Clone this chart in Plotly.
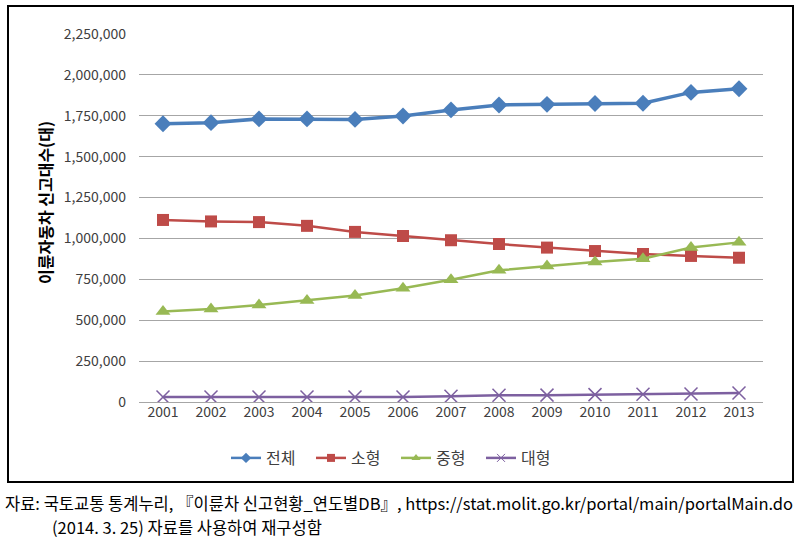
import plotly.graph_objects as go

years = [2001, 2002, 2003, 2004, 2005, 2006, 2007, 2008, 2009, 2010, 2011, 2012, 2013]
total = [1701000, 1708000, 1731000, 1731000, 1728000, 1749000, 1786000, 1816000, 1820000, 1825000, 1827000, 1893000, 1915000]
small = [1113000, 1104000, 1100000, 1077000, 1040000, 1015000, 989000, 966000, 944000, 923000, 905000, 893000, 882000]
medium = [553000, 568000, 593000, 620000, 651000, 696000, 748000, 805000, 832000, 856000, 876000, 944000, 976000]
large = [30000, 30000, 30000, 30000, 30000, 30000, 35000, 41000, 42000, 45000, 47000, 49000, 55000]

series_names = ["전체", "소형", "중형", "대형"]
y_ticks = [0, 250000, 500000, 750000, 1000000, 1250000, 1500000, 1750000, 2000000, 2250000]
y_title = "이륜자동차 신고대수(대)"
source1 = "자료: 국토교통 통계누리, 『이륜차 신고현황_연도별DB』, https://stat.molit.go.kr/portal/main/portalMain.do"
source2 = "(2014. 3. 25) 자료를 사용하여 재구성함"

FONT = "Noto Sans CJK KR"
W, H = 802, 549
L, R, T, B = 139, 39, 34, 147
pw, ph = W - L - R, H - T - B


def px(x):
    return (x - L) / pw


def py(y):
    return (H - B - y) / ph


fig = go.Figure()
styles = [
    (total, "#4A7EBB", "diamond", 13, 3.5),
    (small, "#BE4B48", "square", 12, 2.5),
    (medium, "#98B954", "triangle-up", 13, 2.5),
    (large, "#7D60A0", "x-thin-open", 13, 2.5),
]
for name, (vals, color, sym, size, lw) in zip(series_names, styles):
    mk = dict(symbol=sym, size=size, color=color)
    if sym == "x-thin-open":
        mk["line"] = dict(color=color, width=1.5)
    fig.add_trace(go.Scatter(
        x=years, y=vals, name=name, mode="lines+markers", showlegend=False,
        line=dict(color=color, width=lw), marker=mk,
    ))
# legend entries with small symbols, as in the reference legend
for name, (vals, color, sym, size, lw) in zip(series_names, styles):
    mk = dict(symbol=sym, size=8, color=color)
    if sym == "x-thin-open":
        mk["line"] = dict(color=color, width=1)
    fig.add_trace(go.Scatter(
        x=[None], y=[None], name=name, mode="lines+markers",
        line=dict(color=color, width=2.5), marker=mk,
    ))

fig.update_layout(
    width=W, height=H,
    margin=dict(l=L, r=R, t=T, b=B, autoexpand=False),
    paper_bgcolor="white", plot_bgcolor="white",
    font=dict(family=FONT, color="#404040", size=14),
    showlegend=True,
    legend=dict(orientation="h", x=px(396), xanchor="center", y=py(458), yanchor="middle",
                font=dict(size=16, family=FONT, color="#404040"), itemwidth=30,
                entrywidth=40, tracegroupgap=0),
    xaxis=dict(range=[2000.5, 2013.5], tickmode="array", tickvals=years,
               ticktext=[str(y) for y in years], showgrid=False, zeroline=False,
               showline=False, ticks="", tickfont=dict(size=14, color="#404040")),
    yaxis=dict(range=[0, 2250000], tickmode="array", tickvals=y_ticks,
               ticktext=[f"{v:,}" for v in y_ticks], showgrid=True, gridcolor="#A6A6A6",
               gridwidth=1, zeroline=True, zerolinecolor="#A6A6A6", zerolinewidth=1,
               showline=False, ticks="", ticklabelstandoff=12,
               tickfont=dict(size=14, color="#404040")),
)

fig.add_annotation(text=f"<b>{y_title}</b>", xref="paper", yref="paper",
                   x=px(45), y=py(203), textangle=-90, showarrow=False,
                   font=dict(size=16, family=FONT, color="#000000"),
                   xanchor="center", yanchor="middle")

fig.add_shape(type="rect", xref="paper", yref="paper",
              x0=px(8), x1=px(793), y0=py(482), y1=py(6),
              line=dict(color="black", width=2), fillcolor="rgba(0,0,0,0)", layer="above")

fig.add_annotation(text=source1, xref="paper", yref="paper", x=px(3), y=py(503),
                   xanchor="left", yanchor="middle", showarrow=False,
                   font=dict(size=16.5, family=FONT, color="#000000"))
fig.add_annotation(text=source2, xref="paper", yref="paper", x=px(50), y=py(527),
                   xanchor="left", yanchor="middle", showarrow=False,
                   font=dict(size=16.5, family=FONT, color="#000000"))

fig.write_html("out.html", config={"displayModeBar": False},
               post_script="document.body.style.margin='0';")
